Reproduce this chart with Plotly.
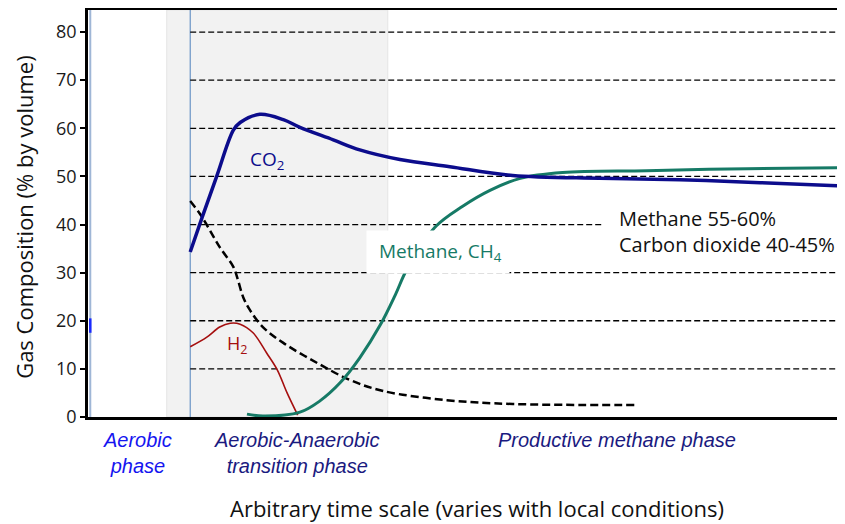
#############################################
########## Landfill gas composition phases
#############################################
import plotly.graph_objects as go

##### Data (arbitrary time scale 0-100, % by volume) #####
co2_time = [13.5, 15.1, 17.0, 19.2, 20.1, 22.7, 25.8, 28.0, 32.4, 35.9, 41.2, 47.8, 56.1, 67.6, 78.2, 88.8, 100.0]
co2_value = [34.3, 41.6, 50.0, 59.6, 61.2, 62.9, 61.8, 60.2, 57.6, 55.5, 53.5, 52.0, 50.2, 49.6, 49.3, 48.7, 48.0]

ch4_time = [21.0, 23.1, 28.0, 30.6, 33.3, 35.9, 38.6, 40.6, 42.1, 45.8, 49.5, 53.1, 57.1, 62.7, 73.8, 87.1, 100.0]
ch4_value = [0.6, 0.2, 1.0, 3.3, 7.1, 12.3, 19.1, 25.4, 30.6, 39.4, 43.8, 47.1, 49.6, 50.8, 51.2, 51.6, 51.8]

h2_time = [13.5, 15.7, 17.4, 18.8, 20.1, 21.8, 23.6, 25.0, 26.3, 27.7]
h2_value = [14.6, 16.6, 18.7, 19.5, 19.3, 17.5, 13.3, 9.8, 5.0, 0.4]

other_time = [13.5, 14.8, 15.7, 17.4, 19.2, 19.8, 20.5, 21.4, 23.1, 25.8, 30.3, 34.6, 39.0, 47.4, 56.1, 72.5]
other_value = [44.9, 42.2, 39.9, 35.3, 31.2, 28.5, 24.9, 22.2, 18.7, 15.4, 11.2, 7.7, 5.4, 3.5, 2.7, 2.5]

y_ticks = [0, 10, 20, 30, 40, 50, 60, 70, 80]
grid_levels = [80, 70, 60, 50, 30, 20, 10]

transition_start = 10.4
anaerobic_start = 13.5
transition_end = 39.6

#############################################
########## Traces
#############################################
fig = go.Figure()

fig.add_trace(go.Scatter(x=other_time, y=other_value, mode='lines', line=dict(color='black', width=2.5, dash='8px,4px', shape='spline'), hoverinfo='skip'))
fig.add_trace(go.Scatter(x=h2_time, y=h2_value, mode='lines', line=dict(color='#a50f0f', width=1.6, shape='spline'), hoverinfo='skip'))
fig.add_trace(go.Scatter(x=ch4_time, y=ch4_value, mode='lines', line=dict(color='#167a66', width=3, shape='spline'), hoverinfo='skip'))
fig.add_trace(go.Scatter(x=co2_time, y=co2_value, mode='lines', line=dict(color='#0c0c8c', width=3.5, shape='spline'), hoverinfo='skip'))

#############################################
########## Background shapes
#############################################
shapes = []
# grey transition band
shapes.append(dict(type='rect', xref='x', yref='y', x0=transition_start, x1=transition_end, y0=0, y1=84.6,
	fillcolor='#f2f2f2', line=dict(color='#e4e4e4', width=1), layer='below'))
# blue start line
shapes.append(dict(type='line', xref='x', yref='y', x0=anaerobic_start, x1=anaerobic_start, y0=0, y1=84.6,
	line=dict(color='#4f81bd', width=1), layer='below'))
# dashed reference levels
for level in grid_levels:
	shapes.append(dict(type='line', xref='x', yref='y', x0=anaerobic_start, x1=100, y0=level, y1=level,
		line=dict(color='black', width=1.3, dash='6px,3px'), layer='below'))
shapes.append(dict(type='line', xref='x', yref='y', x0=anaerobic_start, x1=68.0, y0=40, y1=40,
	line=dict(color='black', width=1.3, dash='6px,3px'), layer='below'))
# light blue edge next to the y axis and top border
shapes.append(dict(type='line', xref='x', yref='y', x0=0.3, x1=0.3, y0=0, y1=85,
	line=dict(color='#9fb6d6', width=2)))
shapes.append(dict(type='line', xref='x', yref='y', x0=0.3, x1=0.3, y0=17.5, y1=20.5,
	line=dict(color='#1a2aff', width=2.5)))
shapes.append(dict(type='line', xref='paper', yref='paper', x0=0, x1=1, y0=1, y1=1,
	line=dict(color='black', width=4)))

#############################################
########## Annotations
#############################################
text_font = 'Open Sans, Noto Sans, sans-serif'
phase_font = 'Liberation Sans, Arial, sans-serif'

annotations = [
	dict(x=23.6, y=53.4, xref='x', yref='y', text='CO<sub>2</sub>', showarrow=False, font=dict(family=text_font, size=19, color='#0c0c8c')),
	dict(x=19.7, y=15.0, xref='x', yref='y', text='H<sub>2</sub>', showarrow=False, font=dict(family=text_font, size=18, color='#a50f0f')),
	dict(x=46.3, y=34.3, xref='x', yref='y', text='&nbsp;Methane, CH<sub>4</sub>', showarrow=False, bgcolor='white', borderpad=7,
		font=dict(family=text_font, size=19, color='#167a66')),
	dict(x=69.9, y=38.6, xref='x', yref='y', text='Methane 55-60%<br>Carbon dioxide 40-45%', showarrow=False, xanchor='left', align='left',
		font=dict(family=text_font, size=20, color='#111111')),
	dict(x=6.6, y=-0.089, xref='x', yref='paper', text='<i>Aerobic<br>phase</i>', showarrow=False, yanchor='middle',
		font=dict(family=phase_font, size=20, color='#1515f0')),
	dict(x=27.6, y=-0.089, xref='x', yref='paper', text='<i>Aerobic-Anaerobic<br>transition phase</i>', showarrow=False, yanchor='middle',
		font=dict(family=phase_font, size=20, color='#1a1a80')),
	dict(x=69.9, y=-0.056, xref='x', yref='paper', text='<i>Productive methane phase</i>', showarrow=False, yanchor='middle',
		font=dict(family=phase_font, size=20, color='#1a1a80')),
	dict(x=51.4, y=-0.2225, xref='x', yref='paper', text='Arbitrary time scale (varies with local conditions)', showarrow=False, yanchor='middle',
		font=dict(family=text_font, size=22, color='#111111')),
	dict(x=-0.0855, y=0.49, xref='paper', yref='paper', text='Gas Composition (% by volume)', showarrow=False, textangle=-90,
		xanchor='center', yanchor='middle', font=dict(family=text_font, size=22, color='#111111')),
]

#############################################
########## Layout
#############################################
# page body adds 8px on top/left, so the figure is 8px smaller than the window
fig.update_layout(
	width=837, height=516,
	margin=dict(l=80, r=0, t=0, b=107),
	paper_bgcolor='white', plot_bgcolor='white',
	showlegend=False,
	shapes=shapes,
	annotations=annotations,
	xaxis=dict(range=[0, 100], showgrid=False, zeroline=False, showticklabels=False, ticks='',
		showline=True, linecolor='black', linewidth=3),
	yaxis=dict(range=[0, 85], tickvals=y_ticks, showgrid=False, zeroline=False,
		showline=True, linecolor='black', linewidth=2.5, ticks='outside', ticklen=5, tickcolor='black', tickwidth=1.5,
		tickfont=dict(family=text_font, size=18, color='#1a1a1a')),
)

fig.write_html("out.html")
